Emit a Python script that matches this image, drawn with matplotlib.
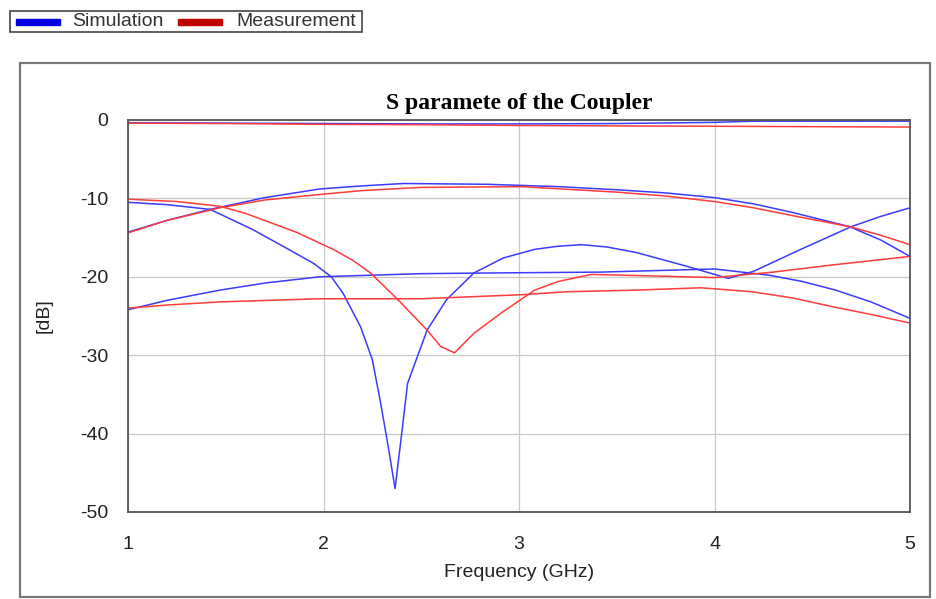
import matplotlib
matplotlib.use("Agg")
import matplotlib.pyplot as plt
from matplotlib.patches import Rectangle
from matplotlib import rcParams

rcParams.update({"font.family": ["Liberation Sans", "DejaVu Sans"], "font.size": 14,
                 "axes.unicode_minus": False})

BLUE = "#3b3bff"
RED = "#ff3b3b"

# ---- simulation (blue) ----
sim_s11_f = [1.0, 1.5, 2.0, 2.5, 3.0, 3.5, 4.0, 4.2, 4.5, 5.0]
sim_s11_db = [-0.35, -0.4, -0.45, -0.5, -0.5, -0.45, -0.3, -0.15, -0.15, -0.15]

sim_thru_f = [1.0, 1.2, 1.42, 1.7, 1.98, 2.2, 2.41, 2.84, 3.2, 3.5, 3.75, 4.0, 4.2, 4.4, 4.69, 4.85, 5.0]
sim_thru_db = [-14.3, -12.8, -11.4, -9.9, -8.8, -8.4, -8.1, -8.2, -8.5, -8.9, -9.3, -9.9, -10.7,
               -11.8, -13.6, -15.3, -17.4]

sim_cpl_f = [1.0, 1.2, 1.42, 1.64, 1.85, 1.95, 2.04, 2.10, 2.19, 2.25, 2.29, 2.33, 2.366,
             2.40, 2.43, 2.48, 2.53, 2.63, 2.77, 2.92, 3.08, 3.2, 3.32, 3.45, 3.6, 3.85, 4.07,
             4.2, 4.45, 4.7, 4.85, 5.0]
sim_cpl_db = [-10.5, -10.8, -11.4, -14.0, -16.9, -18.3, -20.0, -22.1, -26.4, -30.6, -35.8, -41.5,
              -47.0, -40.0, -33.6, -30.2, -26.8, -22.9, -19.5, -17.6, -16.5, -16.1, -15.9, -16.2,
              -16.9, -18.6, -20.2, -19.3, -16.4, -13.6, -12.3, -11.2]

sim_iso_f = [1.0, 1.2, 1.47, 1.7, 1.98, 2.5, 2.9, 3.42, 4.0, 4.28, 4.45, 4.62, 4.8, 5.0]
sim_iso_db = [-24.2, -23.0, -21.7, -20.8, -20.0, -19.6, -19.5, -19.4, -19.0, -19.8, -20.6,
              -21.7, -23.2, -25.3]

# ---- measurement (red) ----
mea_s11_f = [1.0, 1.5, 2.0, 2.5, 3.0, 3.5, 4.0, 4.5, 5.0]
mea_s11_db = [-0.4, -0.45, -0.55, -0.6, -0.7, -0.75, -0.8, -0.85, -0.9]

mea_thru_f = [1.0, 1.2, 1.47, 1.7, 1.98, 2.2, 2.5, 3.01, 3.5, 3.75, 4.0, 4.2, 4.4, 4.69, 4.85, 5.0]
mea_thru_db = [-14.4, -12.8, -11.2, -10.2, -9.5, -9.0, -8.6, -8.5, -9.2, -9.7, -10.4, -11.2,
               -12.2, -13.6, -14.7, -15.9]

mea_cpl_f = [1.0, 1.25, 1.47, 1.6, 1.73, 1.86, 1.98, 2.05, 2.15, 2.24, 2.38, 2.53, 2.60, 2.67,
             2.77, 2.91, 3.08, 3.2, 3.37, 3.7, 4.0, 4.3, 4.6, 5.0]
mea_cpl_db = [-10.1, -10.4, -11.0, -11.9, -13.1, -14.3, -15.7, -16.5, -17.9, -19.5, -22.9, -26.8,
              -28.9, -29.7, -27.2, -24.6, -21.7, -20.6, -19.7, -19.9, -20.1, -19.4, -18.5, -17.4]

mea_iso_f = [1.0, 1.2, 1.47, 1.98, 2.5, 3.0, 3.25, 3.6, 3.93, 4.19, 4.4, 4.62, 4.8, 5.0]
mea_iso_db = [-24.0, -23.6, -23.2, -22.8, -22.8, -22.3, -21.9, -21.7, -21.4, -21.9, -22.7,
              -23.9, -24.8, -25.9]

W, H = 936, 599
fig = plt.figure(figsize=(W / 100, H / 100), dpi=100)

# outer chart frame
fig.patches.append(Rectangle((20 / W, 1 - 597 / H), 910 / W, 534 / H, transform=fig.transFigure,
                             fill=False, edgecolor="#777777", lw=1.6))

ax = fig.add_axes([128 / W, 1 - 512 / H, 782 / W, 392 / H])
for f, d in [(sim_s11_f, sim_s11_db), (sim_thru_f, sim_thru_db),
             (sim_cpl_f, sim_cpl_db), (sim_iso_f, sim_iso_db)]:
    ax.plot(f, d, color=BLUE, lw=1.1)
for f, d in [(mea_s11_f, mea_s11_db), (mea_thru_f, mea_thru_db),
             (mea_cpl_f, mea_cpl_db), (mea_iso_f, mea_iso_db)]:
    ax.plot(f, d, color=RED, lw=1.1)

ax.set_xlim(1, 5)
ax.set_ylim(-50, 0)
ax.set_xticks([1, 2, 3, 4, 5])
ax.set_yticks([0, -10, -20, -30, -40, -50])
ax.grid(True, color="#c8c8c8", lw=0.9)
ax.set_axisbelow(True)
ax.tick_params(axis="x", length=0, pad=17, labelsize=14, colors="#222222")
ax.tick_params(axis="y", length=0, pad=14, labelsize=14, colors="#222222")
for s in ax.spines.values():
    s.set_color("#555555")
    s.set_linewidth(1.3)
ax.set_xlabel("Frequency (GHz)", fontsize=14, labelpad=8, color="#222222")
ax.set_ylabel("[dB]", fontsize=14, labelpad=20, color="#222222")
ax.set_title("S paramete of the Coupler", fontfamily="Liberation Serif", fontweight="bold",
             fontsize=17, pad=8)

# legend box on top
fig.patches.append(Rectangle((10 / W, 1 - 32 / H), 352 / W, 21 / H, transform=fig.transFigure,
                             fill=False, edgecolor="#444444", lw=1.2))
fig.patches.append(Rectangle((16 / W, 1 - 25 / H), 44 / W, 6 / H, transform=fig.transFigure,
                             color="#0000e0"))
fig.text(72 / W, 1 - 21.5 / H, "Simulation", fontsize=14, va="center", color="#333333")
fig.patches.append(Rectangle((178 / W, 1 - 25 / H), 44 / W, 6 / H, transform=fig.transFigure,
                             color="#c00000"))
fig.text(236 / W, 1 - 21.5 / H, "Measurement", fontsize=14, va="center", color="#333333")

fig.savefig("out.png", dpi=100)
